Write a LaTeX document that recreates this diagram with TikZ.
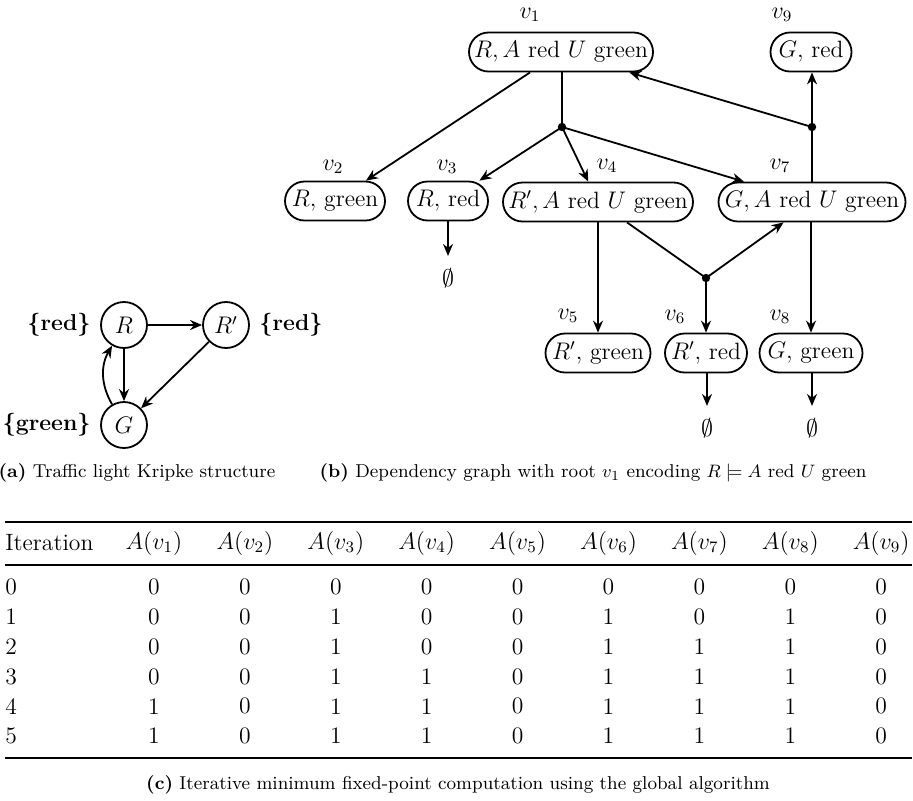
\documentclass[tikz,border=0pt]{standalone}
\usepackage{amsmath}
\usetikzlibrary{arrows.meta}
\begin{document}
\begin{tikzpicture}[x=0.5pt,y=-0.5pt,
  every node/.style={font=\fontsize{11.8}{14}\selectfont},
  state/.style={draw,circle,line width=0.9pt,minimum size=23pt,inner sep=0pt},
  dnode/.style={draw,rounded corners=9.75pt,line width=0.9pt,minimum height=19.5pt,inner xsep=1.5pt,inner ysep=0pt},
  jdot/.style={circle,fill,inner sep=0pt,minimum size=4.2pt},
  edge/.style={line width=0.9pt,-{Stealth[length=6pt,width=5pt]}},
  plainedge/.style={line width=0.9pt},
  vlab/.style={inner sep=0pt},
  proplab/.style={inner sep=0pt,font=\fontsize{11.5}{14}\selectfont},
  empt/.style={inner xsep=1pt,inner ysep=6pt},
  capt/.style={font=\fontsize{9.3}{11}\selectfont,inner sep=0pt},
  cell/.style={inner sep=0pt},
  rulethick/.style={line width=1pt},
  rulethin/.style={line width=0.6pt},
]
\useasboundingbox (0,0) rectangle (913,800);

% (a) Kripke structure
\node[state] (R) at (124,325) {$R$};
\node[state] (Rp) at (226,325) {$R'$};
\node[state] (G) at (124,425) {$G$};
\node[proplab,anchor=east] (lr) at (91,325) {\textbf{\{red\}}};
\node[proplab,anchor=west] (lrp) at (259,325) {\textbf{\{red\}}};
\node[proplab,anchor=east] (lg) at (91,425) {\textbf{\{green\}}};
\draw[edge] (R) -- (Rp);
\draw[edge] (R) -- (G);
\draw[edge] (Rp) -- (G);
\draw[edge] (G) to[bend left=30] (R);
\node[capt] (capa) at (137,473) {\textbf{(a)} Traffic light Kripke structure};

% (b) Dependency graph
\node[dnode,minimum width=92pt] (v1) at (561,52) {$R, A$ red $U$ green};
\node[dnode,minimum width=50pt] (v2) at (335,201) {$R,$ green};
\node[dnode,minimum width=40pt] (v3) at (448,201) {$R,$ red};
\node[dnode,minimum width=95pt] (v4) at (598,202) {$R', A$ red $U$ green};
\node[dnode,minimum width=93.5pt] (v7) at (812,202) {$G, A$ red $U$ green};
\node[dnode,minimum width=40.5pt] (v9) at (811,52) {$G,$ red};
\node[dnode,minimum width=52.5pt] (v5) at (598,353) {$R',$ green};
\node[dnode,minimum width=41pt] (v6) at (706,353) {$R',$ red};
\node[dnode,minimum width=51.5pt] (v8) at (811,353) {$G,$ green};

\node[vlab] (l1) at (530,15) {$v_1$};
\node[vlab] (l2) at (333,167) {$v_2$};
\node[vlab] (l3) at (447,167) {$v_3$};
\node[vlab] (l4) at (607,166) {$v_4$};
\node[vlab] (l7) at (780,166) {$v_7$};
\node[vlab] (l9) at (782,15) {$v_9$};
\node[vlab] (l5) at (568,316) {$v_5$};
\node[vlab] (l6) at (675,317) {$v_6$};
\node[vlab] (l8) at (780,317) {$v_8$};

\node[jdot] (d1) at (562,127) {};
\node[jdot] (d2) at (812,127) {};
\node[jdot] (d3) at (706,278) {};

\node[empt] (e3) at (448,278) {$\emptyset$};
\node[empt] (e6) at (707,428) {$\emptyset$};
\node[empt] (e8) at (812,428) {$\emptyset$};

\draw[edge] (v1) -- (v2);
\draw[plainedge] (v1.south -| d1) -- (d1.center);
\draw[edge] (d1.center) -- (v3);
\draw[edge] (d1.center) -- (v4);
\draw[edge] (d1.center) -- (v7);
\draw[plainedge] (v7.north -| d2) -- (d2.center);
\draw[edge] (d2.center) -- (v9.south -| d2);
\draw[edge] (d2.center) -- (v1);
\draw[edge] (v4.south -| v5.north) -- (v5.north);
\draw[plainedge] (v4) -- (d3.center);
\draw[edge] (d3.center) -- (v7);
\draw[edge] (d3.center) -- (v6.north -| d3);
\draw[edge] (v7.south -| v8.north) -- (v8.north);
\draw[edge] (v3) -- (e3);
\draw[edge] (v6.south -| e6) -- (e6);
\draw[edge] (v8.south -| e8) -- (e8);
\node[capt] (capb) at (593,473) {\textbf{(b)} Dependency graph with root $v_1$ encoding $R \models A$ red $U$ green};

% (c) Table
\draw[rulethick] (5,522) -- (912,522);
\draw[rulethin] (5,565) -- (912,565);
\draw[rulethick] (5,758) -- (912,758);
\node[cell,anchor=west] (hit) at (5,543) {Iteration};
\foreach \i in {1,...,9} {
  \node[cell] (h\i) at ({154+90.9*(\i-1)},543) {$A(v_{\i})$};
}
\foreach \r/\vals [count=\k from 0] in {0/{0,0,0,0,0,0,0,0,0},1/{0,0,1,0,0,1,0,1,0},2/{0,0,1,0,0,1,1,1,0},3/{0,0,1,1,0,1,1,1,0},4/{1,0,1,1,0,1,1,1,0},5/{1,0,1,1,0,1,1,1,0}} {
  \node[cell,anchor=west] (it\k) at (5,{587+29.8*\k}) {\r};
  \foreach \v [count=\c] in \vals {
    \node[cell] (c\k\c) at ({154+90.9*(\c-1)},{587+29.8*\k}) {\v};
  }
}
\node[capt] (capc) at (458,785) {\textbf{(c)} Iterative minimum fixed-point computation using the global algorithm};
\end{tikzpicture}
\end{document}
